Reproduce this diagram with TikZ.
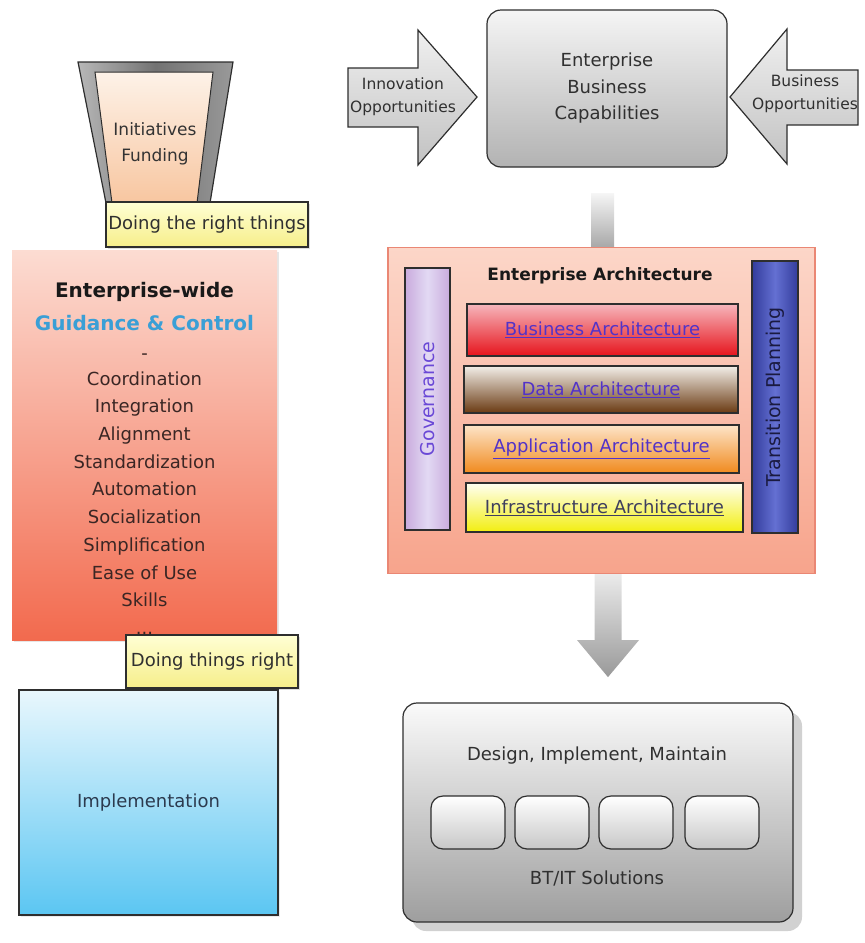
\documentclass[tikz,border=0pt]{standalone}
\usepackage{fontspec}
\setmainfont{DejaVu Sans}
\usetikzlibrary{calc,shadows}

\definecolor{ink}{HTML}{303030}
\definecolor{edgec}{HTML}{2E2E2E}
\definecolor{linkc}{HTML}{5233C8}
\definecolor{guide}{HTML}{3A9FD6}
\definecolor{ctltop}{HTML}{FCDCD2}
\definecolor{ctlbot}{HTML}{F26A4E}
\definecolor{ctltext}{HTML}{3A2624}
\definecolor{eatop}{HTML}{FCD6C8}
\definecolor{eabot}{HTML}{F7A48C}
\definecolor{eaedge}{HTML}{EA8774}
\definecolor{impltop}{HTML}{E9F7FD}
\definecolor{implbot}{HTML}{5BC6F2}
\definecolor{impltext}{HTML}{2C3A4E}
\definecolor{govfill}{HTML}{D6C9EE}
\definecolor{govtext}{HTML}{6A48D6}
\definecolor{tpmid}{HTML}{6470D2}
\definecolor{tpedge}{HTML}{333C9C}
\definecolor{tptext}{HTML}{1A1A40}
\definecolor{bustop}{HTML}{F6B6BC}
\definecolor{busbot}{HTML}{E6141C}
\definecolor{datatop}{HTML}{F2EEE8}
\definecolor{databot}{HTML}{6A3A12}
\definecolor{apptop}{HTML}{FDE4C8}
\definecolor{appbot}{HTML}{F08A1E}
\definecolor{inftop}{HTML}{FFFFF2}
\definecolor{infbot}{HTML}{F2EE10}
\definecolor{inftext}{HTML}{3E3E5E}
\definecolor{fundtop}{HTML}{FDF2E8}
\definecolor{fundbot}{HTML}{F8C6A0}
\definecolor{tagtop}{HTML}{FFFFD4}
\definecolor{tagbot}{HTML}{F6EE8A}

\newcommand{\fs}[1]{\fontsize{#1}{#1}\selectfont}
\newcommand{\fsl}[2]{\fontsize{#1}{#2}\selectfont}

\begin{document}
\begin{tikzpicture}[x=1pt,y=-1pt,
  box/.style={draw=edgec, line width=1.2pt, inner sep=0pt, outer sep=0pt, rectangle},
  tag/.style={box, top color=tagtop, bottom color=tagbot,
              font=\fs{18}, text=ink, drop shadow={shadow xshift=2pt, shadow yshift=-2pt, opacity=0.25}},
  layer/.style={box, font=\fs{18}, text=linkc},
  minibox/.style={box, rounded corners=12pt, minimum width=74pt, minimum height=53pt,
                  top color=white, bottom color=black!22},
  blockarrow/.style={draw=edgec, line width=1.2pt, top color=black!6, bottom color=black!24},
  txt/.style={font=\fs{18}, text=ink, align=center, inner sep=0pt},
]
\useasboundingbox (0,0) rectangle (865,943);

% ---------- left column ----------
% funnel with its rim
\path[draw=edgec, line width=1.2pt, left color=black!28, right color=black!40, middle color=black!55]
  (78,62) -- (233,62) -- (210,203) -- (106,203) -- cycle;
\path[draw=edgec, line width=1pt, top color=fundtop, bottom color=fundbot]
  (95,72) -- (213,72) -- (197,203) -- (112,203) -- cycle;
\node[txt, font=\fsl{17}{26}, text=black!80] (fund) at (155,144)
  {Initiatives\\Funding};

% guidance and control block
\node[box, draw=none, minimum width=265pt, minimum height=390pt,
      top color=ctltop, bottom color=ctlbot,
      drop shadow={shadow xshift=2pt, shadow yshift=-2pt, opacity=0.2}] (ctl) at (144.5,445) {};
\node[txt, font=\bfseries\fs{20}, text=black!90] (ew) at (144.5,292) {Enterprise-wide};
\node[txt, font=\bfseries\fs{20}, text=guide] (gc) at (144.5,323) {Guidance \& Control};
\node[txt, text=ctltext] (dash) at (144.5,357) {-};
\node[txt, font=\fsl{18}{27.7}, text=ctltext] (list) at (144.5,503)
  {Coordination\\Integration\\Alignment\\Standardization\\Automation\\Socialization\\Simplification\\Ease of Use\\Skills\\...};

\node[tag, minimum width=202pt, minimum height=45pt] (right1) at (207,224.5) {Doing the right things};
\node[tag, minimum width=172pt, minimum height=53pt] (right2) at (212,661.5) {Doing things right};

% implementation block
\node[box, minimum width=259pt, minimum height=225pt,
      top color=impltop, bottom color=implbot,
      font=\fs{18}, text=impltext,
      drop shadow={shadow xshift=2pt, shadow yshift=-2pt, opacity=0.15}] (impl) at (148.5,802.5) {Implementation};

% ---------- right column ----------
% capabilities with incoming opportunities
\node[box, rounded corners=14pt, minimum width=240pt, minimum height=157pt,
      top color=black!4, bottom color=black!30] (cap) at (607,88.5) {};
\node[txt, font=\fsl{18}{26.5}] (captext) at (cap.center)
  {Enterprise\\Business\\Capabilities};

\path[blockarrow] (348,68) -- (418,68) -- (418,30) -- (477,97) -- (418,165) -- (418,127) -- (348,127) -- cycle;
\node[txt, font=\fsl{15.5}{23}] (innov) at (403,96.5) {Innovation\\Opportunities};

\path[blockarrow] (858,70) -- (787,70) -- (787,29) -- (730,97) -- (787,164) -- (787,125) -- (858,125) -- cycle;
\node[txt, font=\fsl{15.5}{23}] (busop) at (805,94) {Business\\Opportunities};

% enterprise architecture block
\node[box, draw=eaedge, line width=1.2pt, minimum width=427pt, minimum height=326pt,
      top color=eatop, bottom color=eabot] (ea) at (601.5,410.5) {};

% link from capabilities into the architecture block
\path[top color=black!4, bottom color=black!34]
  ($(ea.north)+(-10.5,-54)$) rectangle ($(ea.north)+(12.5,-0.6)$);

\node[txt, font=\bfseries\fs{17}, text=black!90] (eatitle) at (600,276) {Enterprise Architecture};

\node[box, minimum width=45pt, minimum height=262pt, left color=govfill!85!violet, right color=govfill!85!violet,
      middle color=govfill!70!white] (gov) at (427.5,399) {};
\node[txt, rotate=90, font=\fs{19}, text=govtext] (govtext) at (gov.center) {Governance};

\node[box, minimum width=46pt, minimum height=272pt, left color=tpedge, right color=tpedge, middle color=tpmid]
  (trans) at (775,397) {};
\node[txt, rotate=90, font=\fs{19}, text=tptext] (transtext) at (trans.center) {Transition Planning};

\node[layer, minimum width=271pt, minimum height=52pt, top color=bustop, bottom color=busbot]
  (busarch) at (602.5,330) {\underline{Business Architecture}};
\node[layer, minimum width=274pt, minimum height=47pt, top color=datatop, bottom color=databot]
  (dataarch) at (601,389.5) {\underline{Data Architecture}};
\node[layer, minimum width=275pt, minimum height=48pt, top color=apptop, bottom color=appbot]
  (apparch) at (601.5,449) {\underline{Application Architecture}};
\node[layer, minimum width=277pt, minimum height=49pt, top color=inftop, bottom color=infbot,
      text=inftext] (infarch) at (604.5,507.5) {\underline{Infrastructure Architecture}};

% delivery block
\node[box, rounded corners=14pt, minimum width=390pt, minimum height=219pt,
      top color=black!2, bottom color=black!38,
      drop shadow={shadow xshift=9pt, shadow yshift=-9pt, opacity=0.3, fill=black!60}] (sol) at (598,812.5) {};
\node[txt] (dim) at (597,756) {Design, Implement, Maintain};
\node[minibox] (s1) at (468,822.5) {};
\node[minibox] (s2) at (552,822.5) {};
\node[minibox] (s3) at (636,822.5) {};
\node[minibox] (s4) at (722,822.5) {};
\node[txt] (btit) at (597,878) {BT/IT Solutions};

% arrow from the architecture block to the delivery block
\coordinate (dtop) at ($(ea.south)+(6.5,0.6)$);
\path[top color=black!8, bottom color=black!40]
  ($(dtop)+(-13.5,0)$) -- ($(dtop)+(13.5,0)$) -- ($(dtop)+(13.5,66)$) -- ($(dtop)+(31,66)$)
  -- ($(dtop)+(0,103)$) -- ($(dtop)+(-31,66)$) -- ($(dtop)+(-13.5,66)$) -- cycle;

\end{tikzpicture}
\end{document}
